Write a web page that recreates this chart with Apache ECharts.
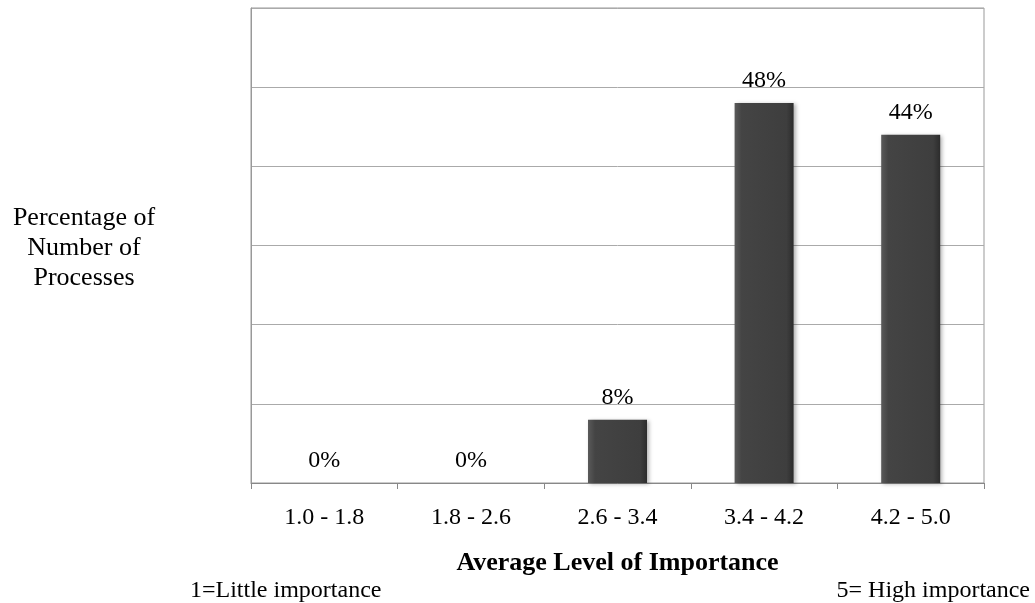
<!DOCTYPE html>
<html>
<head>
<meta charset="utf-8">
<script src="https://cdn.jsdelivr.net/npm/echarts@6/dist/echarts.min.js"></script>
<style>
  html, body { margin: 0; padding: 0; background: #fff; }
  #container { width: 1035px; height: 603px; }
</style>
</head>
<body>
<div id="container"></div>
<script>
  // data
  var categories = ['1.0 - 1.8', '1.8 - 2.6', '2.6 - 3.4', '3.4 - 4.2', '4.2 - 5.0'];
  var percents = [0, 0, 8, 48, 44];

  var font = '"Liberation Serif", "DejaVu Serif", serif';
  var myChart = echarts.init(document.getElementById('container'));

  var option = {
    backgroundColor: '#fff',
    animation: false,
    grid: {
      left: 251,
      right: 51,
      top: 8,
      bottom: 120,
      show: true,
      borderColor: '#999',
      borderWidth: 1
    },
    xAxis: {
      type: 'category',
      data: categories,
      axisLine: { lineStyle: { color: '#888', width: 1 } },
      axisTick: { show: true, length: 6, lineStyle: { color: '#888' } },
      axisLabel: { color: '#000', fontFamily: font, fontSize: 24, margin: 23 },
      name: 'Average Level of Importance',
      nameLocation: 'middle',
      nameGap: 67,
      nameTextStyle: { color: '#000', fontFamily: font, fontSize: 26, fontWeight: 'bold' }
    },
    yAxis: {
      type: 'value',
      min: 0,
      max: 60,
      interval: 10,
      axisLabel: { show: false },
      axisTick: { show: false },
      axisLine: { show: true, lineStyle: { color: '#999' } },
      splitLine: { lineStyle: { color: '#aaa', width: 1 } }
    },
    series: [{
      type: 'bar',
      data: percents,
      barWidth: 59,
      itemStyle: {
        color: {
          type: 'linear', x: 0, y: 0, x2: 1, y2: 0,
          colorStops: [
            { offset: 0, color: '#5a5a5a' },
            { offset: 0.12, color: '#444' },
            { offset: 0.88, color: '#3e3e3e' },
            { offset: 1, color: '#2c2c2c' }
          ]
        },
        borderWidth: 0,
        shadowColor: 'rgba(0,0,0,0.3)',
        shadowBlur: 4,
        shadowOffsetX: 2,
        shadowOffsetY: 1
      },
      label: {
        show: true,
        position: 'top',
        distance: 10,
        formatter: '{c}%',
        color: '#000',
        fontFamily: font,
        fontSize: 24
      }
    }],
    graphic: [
      {
        type: 'text',
        style: {
          text: 'Percentage of\nNumber of\nProcesses',
          x: 84,
          y: 248,
          font: '26px ' + font,
          fill: '#000',
          align: 'center',
          verticalAlign: 'middle',
          lineHeight: 30
        }
      },
      {
        type: 'text',
        style: {
          text: '1=Little importance',
          x: 190,
          y: 591,
          font: '24px ' + font,
          fill: '#000',
          verticalAlign: 'middle'
        }
      },
      {
        type: 'text',
        style: {
          text: '5= High importance',
          x: 1030,
          y: 591,
          font: '24px ' + font,
          fill: '#000',
          align: 'right',
          verticalAlign: 'middle'
        }
      }
    ]
  };

  myChart.setOption(option);
</script>
</body>
</html>
